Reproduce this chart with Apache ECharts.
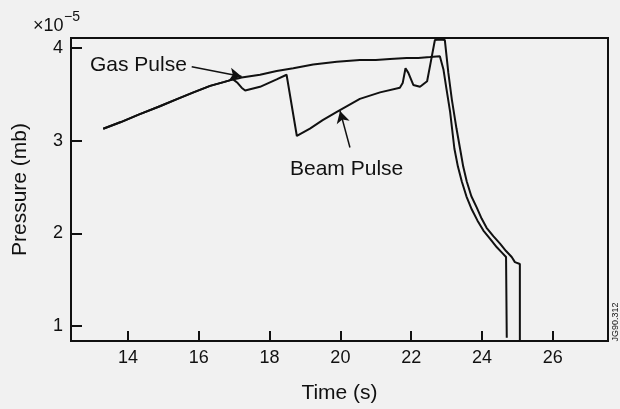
<!DOCTYPE html>
<html>
<head>
<meta charset="utf-8">
<script src="https://cdn.jsdelivr.net/npm/echarts@6/dist/echarts.min.js"></script>
<style>
html,body{margin:0;padding:0;background:#f1f1f1;}
#chart{width:620px;height:409px;}
</style>
</head>
<body>
<div id="chart"></div>
<script>
// Time (s) and pressure (x10^-5 mb)
const gasTime = [13.30, 13.8, 14.3, 14.9, 15.4, 15.85, 16.32, 16.7, 16.97, 17.1, 17.21, 17.73, 18.2, 18.67, 19.23, 19.9, 20.55, 21.0, 21.4, 21.87, 22.2, 22.53, 22.81, 22.91, 23.0, 23.10, 23.22, 23.32, 23.43, 23.56, 23.71, 23.87, 24.04, 24.23, 24.42, 24.57, 24.68, 24.70];
const gasPressure = [3.128, 3.20, 3.28, 3.37, 3.45, 3.52, 3.59, 3.63, 3.66, 3.67, 3.68, 3.71, 3.75, 3.78, 3.82, 3.85, 3.87, 3.87, 3.88, 3.89, 3.89, 3.90, 3.91, 3.77, 3.55, 3.31, 2.915, 2.72, 2.56, 2.40, 2.26, 2.14, 2.03, 1.94, 1.85, 1.79, 1.745, 0.875];

const beamTime = [13.30, 13.8, 14.3, 14.9, 15.4, 15.85, 16.32, 16.7, 16.97, 17.1, 17.21, 17.31, 17.73, 18.2, 18.48, 18.77, 19.14, 19.5, 19.9, 20.55, 21.12, 21.68, 21.76, 21.84, 21.92, 22.06, 22.25, 22.45, 22.55, 22.67, 22.81, 22.95, 23.05, 23.15, 23.28, 23.38, 23.47, 23.57, 23.70, 23.85, 23.99, 24.13, 24.32, 24.51, 24.68, 24.84, 24.93, 25.07, 25.07];
const beamPressure = [3.128, 3.20, 3.28, 3.37, 3.45, 3.52, 3.59, 3.63, 3.66, 3.62, 3.57, 3.54, 3.58, 3.66, 3.71, 3.05, 3.13, 3.22, 3.31, 3.45, 3.52, 3.57, 3.62, 3.78, 3.73, 3.60, 3.58, 3.64, 3.84, 4.085, 4.09, 4.085, 3.73, 3.44, 3.13, 2.915, 2.72, 2.56, 2.40, 2.28, 2.16, 2.06, 1.97, 1.89, 1.81, 1.745, 1.69, 1.67, 0.84];

const xTicks = [14, 16, 18, 20, 22, 24, 26];
const yTicks = [1, 2, 3, 4];

// annotation arrows (data coordinates): [fromTime, fromPressure, toTime, toPressure]
const gasArrow = [15.80, 3.795, 17.21, 3.69];
const beamArrow = [20.27, 2.926, 19.99, 3.32];

const zip = (a, b) => a.map((v, i) => [v, b[i]]);
const FONT = '"Liberation Sans", Arial, Helvetica, sans-serif';
const INK = '#111';

const chart = echarts.init(document.getElementById('chart'), null, {renderer: 'canvas'});

function arrow(a) {
  return [[{coord: [a[0], a[1]], symbol: 'none'}, {coord: [a[2], a[3]], symbol: 'arrow'}]];
}

chart.setOption({
  animation: false,
  backgroundColor: '#f1f1f1',
  grid: {left: 71, right: 12, top: 38, bottom: 64, show: true, borderColor: INK, borderWidth: 2, backgroundColor: 'transparent'},
  xAxis: {
    type: 'value', min: 12.39, max: 27.56,
    name: 'Time (s)', nameLocation: 'middle', nameGap: 42,
    nameTextStyle: {fontFamily: FONT, fontSize: 21, color: INK},
    axisLine: {show: false},
    axisTick: {show: true, inside: true, length: 10, lineStyle: {color: INK, width: 2}, customValues: xTicks},
    axisLabel: {fontFamily: FONT, fontSize: 18, color: INK, margin: 8, customValues: xTicks},
    splitLine: {show: false}
  },
  yAxis: {
    type: 'value', min: 0.84, max: 4.106,
    name: 'Pressure (mb)', nameLocation: 'middle', nameGap: 40, nameRotate: 90,
    nameTextStyle: {fontFamily: FONT, fontSize: 21, color: INK},
    axisLine: {show: false},
    axisTick: {show: true, inside: true, length: 11, lineStyle: {color: INK, width: 2}, customValues: yTicks},
    axisLabel: {fontFamily: FONT, fontSize: 18, color: INK, margin: 8, customValues: yTicks},
    splitLine: {show: false}
  },
  series: [
    {
      name: 'Gas Pulse', type: 'line', data: zip(gasTime, gasPressure),
      symbol: 'none', lineStyle: {color: INK, width: 2}, z: 3,
      markLine: {
        silent: true, symbolSize: [10, 12], label: {show: false},
        lineStyle: {color: INK, width: 1.5, type: 'solid'},
        data: arrow(gasArrow)
      }
    },
    {
      name: 'Beam Pulse', type: 'line', data: zip(beamTime, beamPressure),
      symbol: 'none', lineStyle: {color: INK, width: 2}, z: 3,
      markLine: {
        silent: true, symbolSize: [10, 12], label: {show: false},
        lineStyle: {color: INK, width: 1.5, type: 'solid'},
        data: arrow(beamArrow)
      }
    }
  ],
  graphic: [
    {type: 'text', left: 33, top: 17, style: {text: '×10', font: '18px ' + FONT, fill: INK}},
    {type: 'text', left: 64, top: 10, style: {text: '−5', font: '14px ' + FONT, fill: INK}},
    {type: 'text', x: 90, y: 65, style: {text: 'Gas Pulse', font: '21px ' + FONT, fill: INK, verticalAlign: 'middle'}},
    {type: 'text', x: 290, y: 169, style: {text: 'Beam Pulse', font: '21px ' + FONT, fill: INK, verticalAlign: 'middle'}},
    {type: 'text', x: 616, y: 322, rotation: Math.PI / 2, style: {text: 'JG90.312', font: '9px ' + FONT, fill: INK, align: 'center', verticalAlign: 'middle'}}
  ]
});
</script>
</body>
</html>
